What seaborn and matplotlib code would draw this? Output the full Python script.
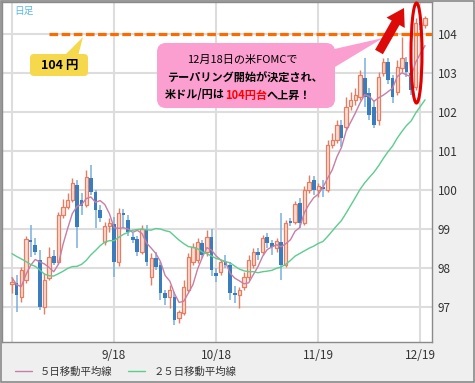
import numpy as np
import pandas as pd
import matplotlib
matplotlib.use("Agg")
import matplotlib.pyplot as plt
import matplotlib.patches as mpatches
import seaborn as sns

# USD/JPY daily candles, 2013-08-19 .. 2013-12-20
dates = pd.bdate_range("2013-08-19", "2013-12-20")
opens = [97.59, 97.62, 97.26, 97.69, 98.72, 98.59, 98.21, 97.00, 97.74, 98.31,
         98.15, 99.36, 99.56, 99.74, 100.13, 99.74, 99.62, 100.31, 99.95, 99.49,
         98.67, 99.08, 99.13, 98.15, 99.41, 99.23, 98.79, 98.74, 98.41, 98.97,
         97.77, 98.26, 98.08, 97.36, 97.26, 97.26, 96.72, 96.85, 97.44, 98.15,
         98.21, 98.64, 98.41, 98.79, 97.87, 97.90, 98.15, 98.08, 97.36, 97.31,
         97.51, 97.77, 98.08, 98.41, 98.41, 98.79, 98.64, 98.51, 98.67, 98.08,
         99.21, 99.18, 99.67, 99.15, 100.00, 100.26, 100.00, 100.08, 100.00, 101.15,
         101.28, 101.67, 101.62, 102.15, 102.31, 102.38, 102.87, 102.49, 102.13, 101.79,
         103.00, 103.28, 102.87, 102.51, 103.13, 103.28, 103.00, 102.64, 104.31, 104.23]
highs = [97.77, 97.82, 98.03, 98.82, 99.10, 98.77, 98.46, 97.87, 98.54, 98.46,
         99.44, 99.77, 99.92, 100.31, 100.26, 99.92, 100.51, 100.64, 100.00, 99.62,
         99.18, 99.28, 99.31, 99.54, 99.51, 99.36, 98.90, 98.82, 99.10, 99.10,
         98.38, 98.41, 98.15, 97.44, 97.56, 97.38, 96.92, 97.69, 98.38, 98.64,
         98.77, 98.72, 98.97, 99.00, 98.00, 98.21, 98.33, 98.15, 97.54, 97.51,
         97.90, 98.33, 98.51, 98.51, 98.85, 98.90, 98.72, 98.77, 99.41, 99.23,
         99.28, 99.72, 99.79, 100.10, 100.38, 100.36, 100.18, 100.26, 101.28, 101.46,
         101.79, 101.79, 102.38, 102.51, 102.62, 103.08, 103.38, 102.62, 102.31, 103.03,
         103.38, 103.38, 102.95, 103.33, 103.92, 103.41, 103.13, 104.41, 104.36, 104.46]
lows = [97.36, 96.87, 97.13, 97.62, 98.28, 98.33, 96.92, 96.82, 97.69, 98.08,
        98.10, 99.28, 99.51, 99.69, 98.51, 99.36, 99.56, 99.87, 99.03, 99.18,
        98.59, 98.92, 97.77, 98.05, 99.03, 98.82, 98.64, 98.31, 98.36, 98.05,
        97.56, 97.95, 97.18, 97.05, 96.97, 96.54, 96.59, 96.79, 97.38, 98.08,
        98.13, 98.26, 98.31, 97.79, 97.64, 97.82, 98.00, 97.18, 97.10, 96.97,
        97.44, 97.69, 98.00, 98.21, 98.33, 98.51, 98.33, 98.41, 97.69, 98.03,
        99.08, 99.13, 99.03, 99.10, 99.92, 99.87, 99.82, 99.82, 99.95, 101.08,
        101.21, 101.10, 101.54, 102.05, 102.18, 102.31, 102.13, 101.79, 101.59, 101.67,
        102.92, 102.72, 102.23, 102.44, 103.03, 102.90, 102.44, 102.56, 104.10, 104.15]
closes = [97.64, 97.31, 97.95, 98.74, 98.67, 98.41, 97.00, 97.69, 98.28, 98.13,
          99.36, 99.56, 99.74, 100.18, 99.05, 99.59, 100.33, 99.95, 99.49, 99.28,
          99.08, 99.15, 98.15, 99.41, 99.36, 98.92, 98.72, 98.41, 99.00, 98.15,
          98.26, 98.03, 97.36, 97.23, 97.44, 96.67, 96.87, 97.51, 98.28, 98.54,
          98.67, 98.33, 98.79, 97.95, 97.79, 98.15, 98.08, 97.36, 97.31, 97.44,
          97.77, 98.21, 98.41, 98.33, 98.77, 98.64, 98.54, 98.69, 98.08, 99.15,
          99.15, 99.64, 99.15, 100.00, 100.21, 100.00, 100.10, 100.03, 101.15, 101.28,
          101.67, 101.33, 102.13, 102.31, 102.44, 102.95, 102.38, 101.92, 101.67, 102.90,
          103.28, 102.82, 102.38, 103.15, 103.38, 103.03, 102.56, 104.28, 104.23, 104.41]
# closes of the 24 sessions before 8/19 (needed for the moving averages)
prior_closes = [99.1, 99.5, 100.4, 100.6, 99.6, 99.4, 100.3, 99.3, 98.3, 97.9,
                98.0, 97.9, 99.0, 98.9, 98.3, 97.8, 96.4, 96.7, 96.2, 96.8,
                98.2, 98.2, 97.2, 97.5]

tick_dates = ["2013-08-19", "2013-09-18", "2013-10-18", "2013-11-19", "2013-12-19"]
tick_labels = ["", "9/18", "10/18", "11/19", "12/19"]
y_ticks = [97, 98, 99, 100, 101, 102, 103, 104]
level = 104
ma_labels = ["５日移動平均線", "２５日移動平均線"]

UP_EDGE, UP_FILL = "#e57d62", "#fbdcd2"
DN_FILL, DN_WICK = "#3a7dbf", "#78afdf"
MA5_COL, MA25_COL = "#c67fa6", "#5ccc8f"

all_close = pd.Series(prior_closes + closes)
df = pd.DataFrame({
    "i": np.arange(len(closes)),
    "open": opens, "high": highs, "low": lows, "close": closes,
    "ma5": all_close.rolling(5).mean().iloc[len(prior_closes):].to_numpy(),
    "ma25": all_close.rolling(25).mean().iloc[len(prior_closes):].to_numpy(),
})

sns.set_theme(style="white")
plt.rcParams["font.family"] = ["Noto Sans CJK JP", "DejaVu Sans"]

W, H = 475, 383
fig = plt.figure(figsize=(W / 100, H / 100), dpi=100, facecolor="#efefef")
ax = fig.add_axes([2 / W, 41 / H, 430 / W, 340 / H])
ax.set_facecolor("white")

up = df["close"] >= df["open"]
dn = ~up
ax.vlines(df["i"][up], df["low"][up], df["high"][up], color=UP_EDGE, lw=1, zorder=2)
ax.vlines(df["i"][dn], df["low"][dn], df["high"][dn], color=DN_WICK, lw=1.1, zorder=2)
ax.bar(df["i"][up], (df["close"] - df["open"])[up], bottom=df["open"][up], width=0.72,
       facecolor=UP_FILL, edgecolor=UP_EDGE, lw=0.9, zorder=3)
ax.bar(df["i"][dn], (df["open"] - df["close"])[dn], bottom=df["close"][dn], width=0.8,
       color=DN_FILL, lw=0, zorder=3)

sns.lineplot(data=df, x="i", y="ma5", color=MA5_COL, lw=1, ax=ax, zorder=4, label=ma_labels[0])
sns.lineplot(data=df, x="i", y="ma25", color=MA25_COL, lw=1, ax=ax, zorder=4, label=ma_labels[1])
handles, labels = ax.get_legend_handles_labels()
if ax.get_legend():
    ax.get_legend().remove()

# 104 yen level
ax.axhline(level, xmin=0.11, xmax=1, color="#ff6a00", lw=2.3, ls=(0, (2.7, 1.1)), zorder=5)

ax.set_xlim(-2.15, 90.5)
ax.set_ylim(96.1, 104.82)
ax.set_xticks([dates.get_loc(pd.Timestamp(d)) for d in tick_dates])
ax.set_xticklabels(tick_labels)
ax.set_yticks(y_ticks)
ax.yaxis.tick_right()
ax.set_xlabel("")
ax.set_ylabel("")
ax.grid(True, color="#dddddd", lw=1.5)
ax.set_axisbelow(True)
ax.tick_params(axis="y", length=0, pad=4, labelsize=8.5, labelcolor="#333333")
ax.tick_params(axis="x", length=0, pad=5, labelsize=8.5, labelcolor="#333333")
for s in ax.spines.values():
    s.set_color("#8a8a8a")
    s.set_linewidth(1)

fig.legend(handles, labels, loc="center left", bbox_to_anchor=(15 / W, 11 / H),
           ncol=2, frameon=False, fontsize=7.5, handlelength=1.6, handletextpad=0.8,
           columnspacing=1.5, borderpad=0, borderaxespad=0, labelcolor="#333333")

# overlay in pixel coordinates for the callouts
ov = fig.add_axes([0, 0, 1, 1])
ov.set_xlim(0, W)
ov.set_ylim(H, 0)
ov.axis("off")
ov.set_zorder(5)

ov.add_patch(mpatches.Rectangle((0.5, 0.5), W - 1.5, H - 1.5, fill=False, ec="#8a8a8a", lw=1.2))
ov.text(14, 11, "日足", color="#5cb8e6", fontsize=7, va="center")

# yellow callout
ov.add_patch(mpatches.Polygon([(64, 56), (78, 56), (83, 37)], closed=True, fc="#f6d84c", ec="none"))
ov.add_patch(mpatches.FancyBboxPatch((30, 54), 58, 22, boxstyle="round,pad=0,rounding_size=4",
                                     fc="#f6d84c", ec="none"))
ov.text(60, 65, "104 円", fontsize=9, weight="bold", ha="center", va="center", color="black")

# pink callout
ov.add_patch(mpatches.Polygon([(330, 50), (330, 70), (383, 38)], closed=True, fc="#fb9fd0", ec="none"))
ov.add_patch(mpatches.FancyBboxPatch((157, 43), 178, 65, boxstyle="round,pad=0,rounding_size=9",
                                     fc="#fb9fd0", ec="none"))
ov.text(242, 60, "12月18日の米FOMCで", fontsize=8, ha="center", va="center", color="black")
ov.text(245, 78, "テーパリング開始が決定され、", fontsize=8, weight="bold", ha="center",
        va="center", color="black")
t1 = ov.text(165, 95, "米ドル/円は", fontsize=8, weight="bold", ha="left", va="center", color="black")
t2 = ov.annotate("104円台", xy=(1, 0.5), xycoords=t1, fontsize=8, weight="bold",
                 ha="left", va="center", color="#ff0000")
ov.annotate("へ上昇！", xy=(1, 0.5), xycoords=t2, fontsize=8, weight="bold",
            ha="left", va="center", color="black")

# red arrow and ellipse
ov.add_patch(mpatches.FancyArrow(379, 52, 25, -44, width=9, head_width=21, head_length=17,
                                 length_includes_head=True, color="#dd0a0a", lw=0))
ov.add_patch(mpatches.Ellipse((416.5, 53), 11, 100, fill=False, ec="#e00000", lw=2.2))

fig.savefig("out.png", dpi=100, facecolor=fig.get_facecolor())
